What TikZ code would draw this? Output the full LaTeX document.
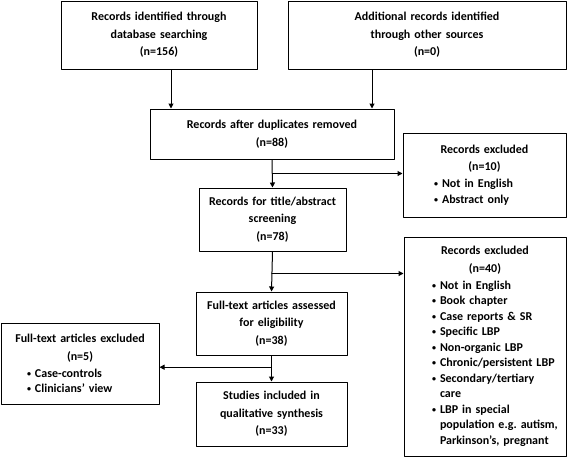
\documentclass[tikz,border=0pt]{standalone}
\usepackage{fontspec}
\setmainfont{Carlito}
\usetikzlibrary{arrows.meta,calc}
\newcommand{\itm}[1]{\noindent\llap{\raisebox{1pt}{\fontsize{8}{8}\selectfont\textbullet}\hspace{4pt}}\mbox{#1}}
\newcommand{\cnt}[1]{\noindent\mbox{#1}}
\tikzset{
  box/.style={draw,line width=1pt,inner sep=0pt,align=center,
    font=\bfseries\fontsize{12}{17.5}\selectfont\frenchspacing},
  exbox/.style={box,font=\bfseries\fontsize{12}{15.5}\selectfont\frenchspacing}
}
\begin{document}
\begin{tikzpicture}[x=1pt,y=-1pt,line cap=round,line join=round,>={Triangle[length=5pt,width=5pt]},line width=1pt]
\useasboundingbox (0,0) rectangle (567,458);
\node[box,text width=196pt,minimum height=68pt] (rid) at (159,35) {Records identified through\\database searching\\(n=156)};
\node[box,text width=278pt,minimum height=68pt] (add) at (427,35) {Additional records identified\\through other sources\\(n=0)};
\node[box,text width=244pt,minimum height=50pt] (dup) at (272,134) {Records after duplicates removed\\(n=88)};
\node[box,text width=147pt,minimum height=63pt] (scr) at (272.5,219.5) {Records for title/abstract\\screening\\(n=78)};
\node[box,text width=151pt,minimum height=63pt] (ful) at (271.5,323.5) {Full-text articles assessed\\for eligibility\\(n=38)};
\node[box,text width=151pt,minimum height=64pt] (inc) at (271.5,414) {Studies included in\\qualitative synthesis\\(n=33)};
\node[exbox,text width=163pt,minimum height=84pt] (exa) at (484.5,175) {Records excluded\\[2pt](n=10)\par\vspace{1.5pt}\raggedright\leftskip=39pt
  \itm{Not in English}\\\itm{Abstract only}\par};
\node[exbox,text width=162pt,minimum height=219pt] (exb) at (485,346.5) {Records excluded\\[2pt](n=40)\par\vspace{1.5pt}\raggedright\leftskip=36pt
  \itm{Not in English}\\\itm{Book chapter}\\\itm{Case reports \& SR}\\\itm{Specific LBP}\\\itm{Non-organic LBP}\\
  \itm{Chronic/persistent LBP}\\\itm{Secondary/tertiary}\\\cnt{care}\\\itm{LBP in special}\\
  \cnt{population e.g. autism,}\\\cnt{Parkinson’s, pregnant}\par};
\node[exbox,text width=158pt,minimum height=81pt] (exc) at (80,363.5) {Full-text articles excluded\\[2pt](n=5)\par\vspace{1.5pt}\raggedright\leftskip=34pt
  \itm{Case-controls}\\\itm{Clinicians’ view}\par};
\coordinate (b1) at ($(dup.south)!0.5!(scr.north)$);
\coordinate (b2) at ($(scr.south)!0.55!(ful.north)$);
\coordinate (b3) at ($(ful.south)!0.45!(inc.north)$);
\draw[->] ([xshift=12pt]rid.south) -- ([xshift=12pt]rid.south |- dup.north);
\draw[->] ([xshift=-55pt]add.south) -- ([xshift=-55pt]add.south |- dup.north);
\draw[->] (dup.south) -- (scr.north);
\draw[->] (b1) -- (b1 -| exa.west);
\draw[->] (scr.south) -- (ful.north);
\draw[->] (b2) -- (b2 -| exb.west);
\draw[->] (ful.south) -- (inc.north);
\draw[->] (b3) -- (b3 -| exc.east);
\end{tikzpicture}
\end{document}
